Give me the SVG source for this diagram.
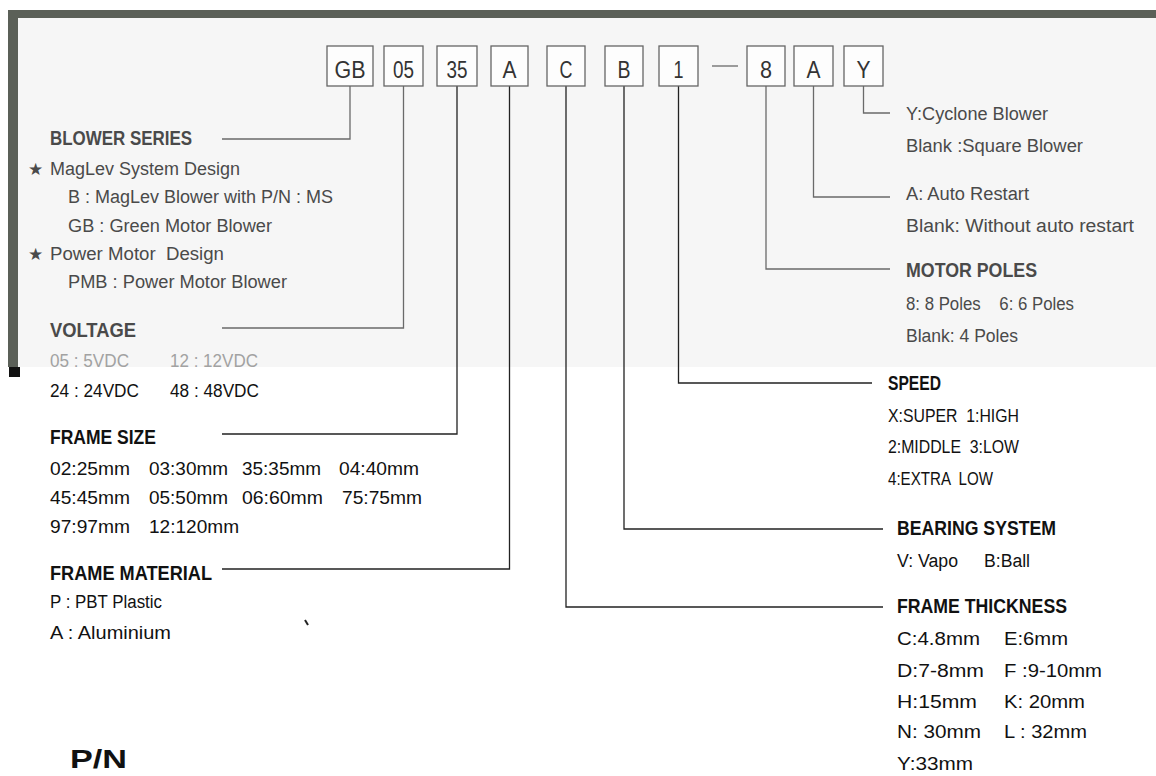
<svg xmlns="http://www.w3.org/2000/svg" width="1156" height="776" viewBox="0 0 1156 776">
<style>
text{font-family:"Liberation Sans","DejaVu Sans",sans-serif;}
.bx rect{fill:#fdfdfd;stroke:#666;stroke-width:1.3;}
.bx text{font-size:23px;fill:#333;text-anchor:middle;}
.h{font-size:20px;font-weight:bold;}
.b{font-size:18px;}
.up{fill:#4a4a4a;}
.lt{fill:#a2a2a2;}
.dk{fill:#111;}
.star{font-family:"DejaVu Sans",sans-serif;font-size:17px;fill:#4a4a4a;}
#connectors path{fill:none;stroke-width:1.3;}
.cu{stroke:#6a6a6a;}
.cd{stroke:#222;}
</style>
<g id="frame">
<rect x="18" y="18" width="1138" height="349" fill="#f6f6f6"/>
<rect x="8" y="10" width="1148" height="8" fill="#5b6058"/>
<rect x="8" y="10" width="10" height="357" fill="#5b6058"/>
<rect x="9" y="367" width="11" height="10" fill="#111"/>
<path d="M305 620 L308 625" stroke="#222" stroke-width="2"/>
</g>
<g id="connectors">
<path class="cu" d="M350 86 V139 H222"/>
<path class="cu" d="M403.5 86 V328 H222"/>
<path class="cd" d="M457 86 V434 H222"/>
<path class="cd" d="M509.5 86 V569 H222"/>
<path class="cd" d="M566 86 V607 H883"/>
<path class="cd" d="M624 86 V529 H883"/>
<path class="cd" d="M678.5 86 V383 H872"/>
<path class="cu" d="M766 86 V269 H890"/>
<path class="cu" d="M813.5 86 V197 H890"/>
<path class="cu" d="M863.5 86 V113 H890"/>
<path class="cu" d="M712 66 H738"/>
</g>
<g id="box-gb" class="bx"><rect x="327" y="46" width="46" height="40"/><text x="350" y="78" textLength="31" lengthAdjust="spacingAndGlyphs">GB</text></g>
<g id="box-05" class="bx"><rect x="384" y="46" width="39" height="40"/><text x="403.5" y="78" textLength="21" lengthAdjust="spacingAndGlyphs">05</text></g>
<g id="box-35" class="bx"><rect x="437" y="46" width="40" height="40"/><text x="457" y="78" textLength="21" lengthAdjust="spacingAndGlyphs">35</text></g>
<g id="box-a1" class="bx"><rect x="491" y="46" width="37" height="40"/><text x="509.5" y="78" textLength="14" lengthAdjust="spacingAndGlyphs">A</text></g>
<g id="box-c" class="bx"><rect x="547" y="46" width="38" height="40"/><text x="566" y="78" textLength="13" lengthAdjust="spacingAndGlyphs">C</text></g>
<g id="box-b" class="bx"><rect x="605" y="46" width="38" height="40"/><text x="624" y="78" textLength="13" lengthAdjust="spacingAndGlyphs">B</text></g>
<g id="box-1" class="bx"><rect x="659" y="46" width="39" height="40"/><text x="678.5" y="78" textLength="10" lengthAdjust="spacingAndGlyphs">1</text></g>
<g id="box-8" class="bx"><rect x="747" y="46" width="38" height="40"/><text x="766" y="78" textLength="12" lengthAdjust="spacingAndGlyphs">8</text></g>
<g id="box-a2" class="bx"><rect x="794" y="46" width="39" height="40"/><text x="813.5" y="78" textLength="14" lengthAdjust="spacingAndGlyphs">A</text></g>
<g id="box-y" class="bx"><rect x="844" y="46" width="39" height="40"/><text x="863.5" y="78" textLength="14" lengthAdjust="spacingAndGlyphs">Y</text></g>
<g id="blower-series">
<text class="h up" x="50" y="145" textLength="142" lengthAdjust="spacingAndGlyphs">BLOWER SERIES</text>
<text class="star" x="28" y="175">★</text>
<text class="b up" x="50" y="175" textLength="190" lengthAdjust="spacingAndGlyphs">MagLev System Design</text>
<text class="b up" x="68" y="203" textLength="265" lengthAdjust="spacingAndGlyphs">B : MagLev Blower with P/N : MS</text>
<text class="b up" x="68" y="232" textLength="204" lengthAdjust="spacingAndGlyphs">GB : Green Motor Blower</text>
<text class="star" x="28" y="260">★</text>
<text class="b up" x="50" y="260" textLength="174" lengthAdjust="spacingAndGlyphs" xml:space="preserve">Power Motor  Design</text>
<text class="b up" x="68" y="288" textLength="219" lengthAdjust="spacingAndGlyphs">PMB : Power Motor Blower</text>
</g>
<g id="voltage">
<text class="h up" x="50" y="337" textLength="86" lengthAdjust="spacingAndGlyphs">VOLTAGE</text>
<text class="b lt" x="50" y="367" textLength="79" lengthAdjust="spacingAndGlyphs">05 : 5VDC</text>
<text class="b lt" x="170" y="367" textLength="88" lengthAdjust="spacingAndGlyphs">12 : 12VDC</text>
<text class="b dk" x="50" y="397" textLength="89" lengthAdjust="spacingAndGlyphs">24 : 24VDC</text>
<text class="b dk" x="170" y="397" textLength="89" lengthAdjust="spacingAndGlyphs">48 : 48VDC</text>
</g>
<g id="frame-size">
<text class="h dk" x="50" y="444" textLength="106" lengthAdjust="spacingAndGlyphs">FRAME SIZE</text>
<text class="b dk" x="50" y="475" textLength="80" lengthAdjust="spacingAndGlyphs">02:25mm</text>
<text class="b dk" x="149" y="475" textLength="79" lengthAdjust="spacingAndGlyphs">03:30mm</text>
<text class="b dk" x="242" y="475" textLength="79" lengthAdjust="spacingAndGlyphs">35:35mm</text>
<text class="b dk" x="339" y="475" textLength="80" lengthAdjust="spacingAndGlyphs">04:40mm</text>
<text class="b dk" x="50" y="504" textLength="80" lengthAdjust="spacingAndGlyphs">45:45mm</text>
<text class="b dk" x="149" y="504" textLength="79" lengthAdjust="spacingAndGlyphs">05:50mm</text>
<text class="b dk" x="242" y="504" textLength="81" lengthAdjust="spacingAndGlyphs">06:60mm</text>
<text class="b dk" x="342" y="504" textLength="80" lengthAdjust="spacingAndGlyphs">75:75mm</text>
<text class="b dk" x="50" y="533" textLength="80" lengthAdjust="spacingAndGlyphs">97:97mm</text>
<text class="b dk" x="149" y="533" textLength="90" lengthAdjust="spacingAndGlyphs">12:120mm</text>
</g>
<g id="frame-material">
<text class="h dk" x="50" y="580" textLength="162" lengthAdjust="spacingAndGlyphs">FRAME MATERIAL</text>
<text class="b dk" x="50" y="608" textLength="112" lengthAdjust="spacingAndGlyphs">P : PBT Plastic</text>
<text class="b dk" x="50" y="639" textLength="121" lengthAdjust="spacingAndGlyphs">A : Aluminium</text>
</g>
<g id="pn-title">
<text class="dk" x="70" y="768" font-size="26" font-weight="bold" textLength="57" lengthAdjust="spacingAndGlyphs">P/N</text>
</g>
<g id="blower-type">
<text class="b up" x="906" y="120" textLength="142" lengthAdjust="spacingAndGlyphs">Y:Cyclone Blower</text>
<text class="b up" x="906" y="152" textLength="177" lengthAdjust="spacingAndGlyphs">Blank :Square Blower</text>
</g>
<g id="auto-restart">
<text class="b up" x="906" y="200" textLength="123" lengthAdjust="spacingAndGlyphs">A: Auto Restart</text>
<text class="b up" x="906" y="232" textLength="228" lengthAdjust="spacingAndGlyphs">Blank: Without auto restart</text>
</g>
<g id="motor-poles">
<text class="h up" x="906" y="277" textLength="131" lengthAdjust="spacingAndGlyphs">MOTOR POLES</text>
<text class="b up" x="906" y="310" textLength="168" lengthAdjust="spacingAndGlyphs" xml:space="preserve">8: 8 Poles    6: 6 Poles</text>
<text class="b up" x="906" y="342" textLength="112" lengthAdjust="spacingAndGlyphs">Blank: 4 Poles</text>
</g>
<g id="speed">
<text class="h dk" x="888" y="390" textLength="53" lengthAdjust="spacingAndGlyphs">SPEED</text>
<text class="b dk" x="888" y="422" textLength="131" lengthAdjust="spacingAndGlyphs" xml:space="preserve">X:SUPER  1:HIGH</text>
<text class="b dk" x="888" y="453" textLength="131" lengthAdjust="spacingAndGlyphs" xml:space="preserve">2:MIDDLE  3:LOW</text>
<text class="b dk" x="888" y="485" textLength="105" lengthAdjust="spacingAndGlyphs" xml:space="preserve">4:EXTRA  LOW</text>
</g>
<g id="bearing-system">
<text class="h dk" x="897" y="535" textLength="159" lengthAdjust="spacingAndGlyphs">BEARING SYSTEM</text>
<text class="b dk" x="897" y="567" textLength="61" lengthAdjust="spacingAndGlyphs">V: Vapo</text>
<text class="b dk" x="984" y="567" textLength="46" lengthAdjust="spacingAndGlyphs">B:Ball</text>
</g>
<g id="frame-thickness">
<text class="h dk" x="897" y="613" textLength="170" lengthAdjust="spacingAndGlyphs">FRAME THICKNESS</text>
<text class="b dk" x="897" y="645" textLength="83" lengthAdjust="spacingAndGlyphs">C:4.8mm</text>
<text class="b dk" x="1004" y="645" textLength="64" lengthAdjust="spacingAndGlyphs">E:6mm</text>
<text class="b dk" x="897" y="677" textLength="87" lengthAdjust="spacingAndGlyphs">D:7-8mm</text>
<text class="b dk" x="1004" y="677" textLength="98" lengthAdjust="spacingAndGlyphs">F :9-10mm</text>
<text class="b dk" x="897" y="708" textLength="80" lengthAdjust="spacingAndGlyphs">H:15mm</text>
<text class="b dk" x="1004" y="708" textLength="81" lengthAdjust="spacingAndGlyphs">K: 20mm</text>
<text class="b dk" x="897" y="738" textLength="84" lengthAdjust="spacingAndGlyphs">N: 30mm</text>
<text class="b dk" x="1004" y="738" textLength="83" lengthAdjust="spacingAndGlyphs">L : 32mm</text>
<text class="b dk" x="897" y="770" textLength="76" lengthAdjust="spacingAndGlyphs">Y:33mm</text>
</g>
</svg>
